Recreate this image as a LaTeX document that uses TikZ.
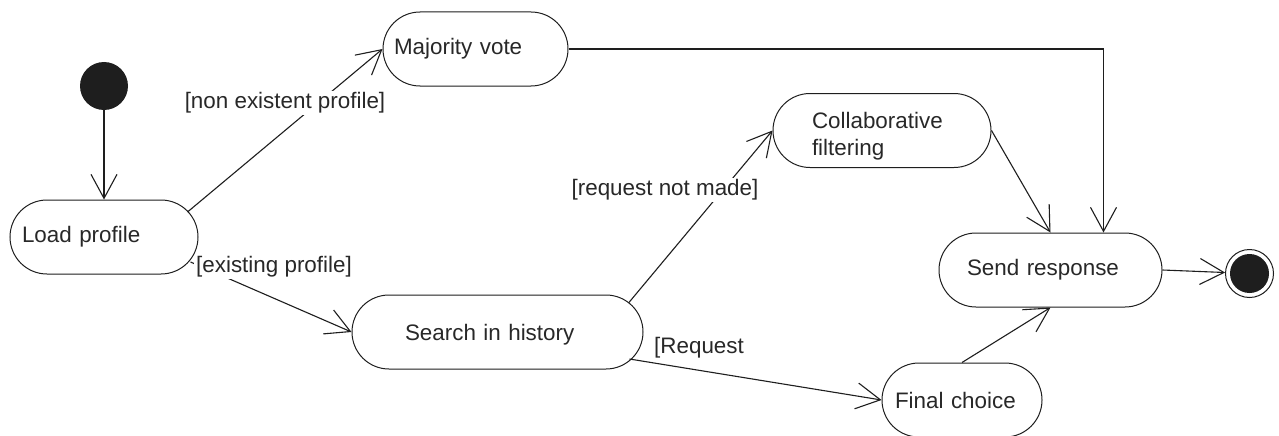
\documentclass[tikz,border=0pt]{standalone}
\usepackage{fontspec}
\setmainfont{Liberation Sans}
\usetikzlibrary{arrows.meta,calc}
\definecolor{ink}{RGB}{30,30,30}
\definecolor{txt}{RGB}{40,40,40}
\begin{document}
\begin{tikzpicture}[x=1pt,y=-1pt,
  every node/.style={font=\fontsize{22.4}{27}\selectfont, text=txt},
  state/.style={draw=ink, line width=1pt, rectangle, rounded corners=37pt,
    minimum height=74pt, inner ysep=0pt, align=left},
  guard/.style={fill=white, inner sep=2pt},
  flow/.style={draw=ink, line width=1.1pt, -{Straight Barb[length=24pt,width=26pt,line width=1.1pt]}}
]
\useasboundingbox (0,0) rectangle (1279,436);
\fill[white] (0,0) rectangle (1279,436);

% initial and final nodes
\node[circle, fill=ink, minimum size=48pt, inner sep=0pt] (init) at (104,86) {};
\node[circle, draw=ink, line width=1pt, minimum size=48pt, inner sep=0pt] (fin) at (1249.5,273.5) {};
\node[circle, fill=ink, minimum size=39pt, inner sep=0pt] (finin) at (1249.5,273.5) {};

% states
\node[state, inner xsep=12pt, text width=164pt] (lp) at (104,237) {Load profile};
\node[state, inner xsep=11pt, text width=163pt] (mv) at (475.5,49) {Majority vote};
\node[state, inner xsep=39pt, text width=140pt] (cf) at (882,130.5)
  {\raisebox{-6pt}[\height][\depth]{\begin{tabular}{@{}l@{}}Collaborative\\filtering\end{tabular}}};
\node[state, inner xsep=28pt, text width=167pt] (sr) at (1050.5,270) {Send response};
\node[state, inner xsep=53pt, text width=185pt] (sh) at (497.5,332) {\raisebox{-3pt}[\height][\depth]{Search in history}};
\node[state, inner xsep=13pt, text width=134pt] (fc) at (962,400) {Final choice};

% transitions
\draw[flow] (init) -- (lp.north);
\draw[flow] ($(lp.east)+(-11,-25)$) -- (mv.west);
\draw[flow] ($(lp.east)+(-8,25)$) -- (sh.west);
\draw[flow] ($(sh.east)+(-15,-29)$) -- (cf.west);
\draw[flow] ($(sh.east)+(-14,27)$) -- (fc.west);
\draw[flow] (mv.east) -| ([xshift=53pt]sr.north);
\draw[flow] (cf.east) -- (sr.north);
\draw[flow] (fc.north) -- (sr.south);
\draw[flow] (sr.east) -- (fin);

% guards
\node[guard] (g1) at (285,103) {[non existent profile]};
\node[guard] (g2) at (274,267) {[existing profile]};
\node[guard] (g3) at (665,190) {[request not made]};
\node[guard, anchor=west] (g4) at (652,348) {[Request};
\end{tikzpicture}
\end{document}
